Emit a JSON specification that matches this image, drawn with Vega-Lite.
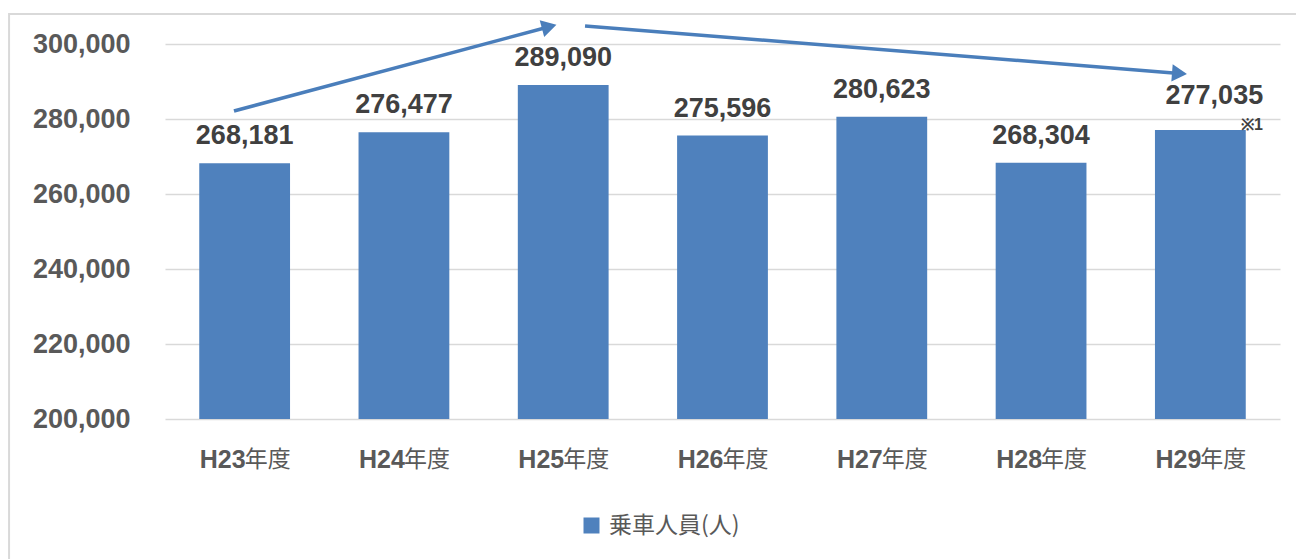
{
  "$schema": "https://vega.github.io/schema/vega-lite/v6.json",
  "width": 1115,
  "height": 375,
  "autosize": {"type": "none"},
  "padding": {"left": 165, "top": 44, "right": 16, "bottom": 140},
  "background": "white",
  "config": {"view": {"stroke": null}, "font": "Liberation Sans"},
  "datasets": {
    "ridership": [
      {"year": "H23", "value": 268181},
      {"year": "H24", "value": 276477},
      {"year": "H25", "value": 289090},
      {"year": "H26", "value": 275596},
      {"year": "H27", "value": 280623},
      {"year": "H28", "value": 268304},
      {"year": "H29", "value": 277035}
    ],
    "arrows": [
      {"arrow": "up", "from_pos": 0.433, "from_value": 282133, "to_pos": 2.412, "to_value": 304587},
      {"arrow": "down", "from_pos": 2.637, "from_value": 304800, "to_pos": 6.369, "to_value": 292160}
    ]
  },
  "layer": [
    {
      "data": {"name": "ridership"},
      "encoding": {
        "x": {"field": "year", "type": "nominal", "sort": null, "scale": {"paddingInner": 0.43, "paddingOuter": 0.215}, "axis": null}
      },
      "layer": [
        {
          "mark": {"type": "bar", "color": "#4f81bd"},
          "encoding": {
            "y": {
              "field": "value", "type": "quantitative",
              "scale": {"domain": [200000, 300000], "nice": false, "zero": false},
              "axis": {
                "title": null, "values": [200000, 220000, 240000, 260000, 280000, 300000], "format": ",.0f",
                "domain": false, "ticks": false, "labelPadding": 35,
                "labelFont": "Liberation Sans", "labelFontWeight": "bold", "labelFontSize": 27,
                "labelColor": "#595959", "grid": true, "gridColor": "#d9d9d9", "gridWidth": 1.5
              }
            },
            "y2": {"datum": 200000},
            "color": {
              "datum": "乗車人員(人)", "type": "nominal",
              "scale": {"range": ["#4f81bd"]},
              "legend": {
                "title": null, "orient": "none", "legendX": 415, "legendY": 470, "padding": 0,
                "symbolType": "square", "symbolSize": 256, "symbolStrokeWidth": 0,
                "labelFont": "Noto Sans CJK JP", "labelFontSize": 23, "labelColor": "#595959", "labelOffset": 6
              }
            }
          }
        },
        {
          "transform": [{"filter": "datum.year !== 'H29'"}],
          "mark": {"type": "text", "baseline": "middle", "dy": -27, "fontSize": 27, "fontWeight": "bold", "color": "#404040", "font": "Liberation Sans"},
          "encoding": {
            "y": {"field": "value", "type": "quantitative", "scale": {"domain": [200000, 300000], "nice": false, "zero": false}, "axis": null},
            "text": {"field": "value", "type": "quantitative", "format": ","}
          }
        },
        {
          "transform": [{"filter": "datum.year === 'H29'"}],
          "mark": {"type": "text", "baseline": "middle", "dy": -34, "dx": 14, "fontSize": 27, "fontWeight": "bold", "color": "#404040", "font": "Liberation Sans"},
          "encoding": {
            "y": {"field": "value", "type": "quantitative", "scale": {"domain": [200000, 300000], "nice": false, "zero": false}, "axis": null},
            "text": {"field": "value", "type": "quantitative", "format": ","}
          }
        },
        {
          "mark": {"type": "text", "align": "right", "baseline": "middle", "dx": 1, "dy": 41, "fontSize": 25, "fontWeight": "bold", "color": "#595959", "font": "Liberation Sans"},
          "encoding": {
            "y": {"datum": 200000, "type": "quantitative", "scale": {"domain": [200000, 300000], "nice": false, "zero": false}, "axis": null},
            "text": {"field": "year"}
          }
        },
        {
          "mark": {"type": "text", "text": "年度", "align": "left", "baseline": "middle", "dx": 0, "dy": 41, "fontSize": 23, "color": "#595959", "font": "Noto Sans CJK JP"},
          "encoding": {
            "y": {"datum": 200000, "type": "quantitative", "scale": {"domain": [200000, 300000], "nice": false, "zero": false}, "axis": null}
          }
        }
      ],
      "resolve": {"axis": {"y": "independent"}}
    },
    {
      "layer": [
        {
          "data": {"values": [{}]},
          "mark": {"type": "rect", "fill": null, "stroke": "#d9d9d9", "strokeWidth": 2},
          "encoding": {
            "x": {"datum": -0.979, "type": "quantitative", "scale": {"domain": [0, 7], "nice": false, "zero": false}, "axis": null},
            "x2": {"datum": 7.16},
            "y": {"datum": 308000, "type": "quantitative", "scale": {"domain": [200000, 300000], "nice": false, "zero": false}, "axis": null},
            "y2": {"datum": 150000}
          }
        },
        {
          "data": {"name": "arrows"},
          "mark": {"type": "rule", "color": "#4a7ebb", "strokeWidth": 3.5},
          "encoding": {
            "x": {"field": "from_pos", "type": "quantitative", "scale": {"domain": [0, 7], "nice": false, "zero": false}, "axis": null},
            "x2": {"field": "to_pos"},
            "y": {"field": "from_value", "type": "quantitative", "scale": {"domain": [200000, 300000], "nice": false, "zero": false}, "axis": null},
            "y2": {"field": "to_value"}
          }
        },
        {
          "data": {"name": "arrows"},
          "transform": [{"filter": "datum.arrow === 'up'"}],
          "mark": {"type": "point", "shape": "triangle-right", "filled": true, "opacity": 1, "color": "#4a7ebb", "size": 300, "angle": -15},
          "encoding": {
            "x": {"field": "to_pos", "type": "quantitative", "scale": {"domain": [0, 7], "nice": false, "zero": false}, "axis": null},
            "y": {"field": "to_value", "type": "quantitative", "scale": {"domain": [200000, 300000], "nice": false, "zero": false}, "axis": null}
          }
        },
        {
          "data": {"name": "arrows"},
          "transform": [{"filter": "datum.arrow === 'down'"}],
          "mark": {"type": "point", "shape": "triangle-right", "filled": true, "opacity": 1, "color": "#4a7ebb", "size": 300, "angle": 4.6},
          "encoding": {
            "x": {"field": "to_pos", "type": "quantitative", "scale": {"domain": [0, 7], "nice": false, "zero": false}, "axis": null},
            "y": {"field": "to_value", "type": "quantitative", "scale": {"domain": [200000, 300000], "nice": false, "zero": false}, "axis": null}
          }
        },
        {
          "data": {"values": [{"note": "※1", "pos": 6.824, "value": 278400}]},
          "mark": {"type": "text", "align": "center", "baseline": "middle", "fontSize": 16, "fontWeight": "bold", "color": "#404040", "font": "Liberation Sans"},
          "encoding": {
            "x": {"field": "pos", "type": "quantitative", "scale": {"domain": [0, 7], "nice": false, "zero": false}, "axis": null},
            "y": {"field": "value", "type": "quantitative", "scale": {"domain": [200000, 300000], "nice": false, "zero": false}, "axis": null},
            "text": {"field": "note"}
          }
        }
      ],
      "resolve": {"axis": {"y": "independent"}}
    }
  ],
  "resolve": {"scale": {"x": "independent"}, "axis": {"y": "independent"}}
}
